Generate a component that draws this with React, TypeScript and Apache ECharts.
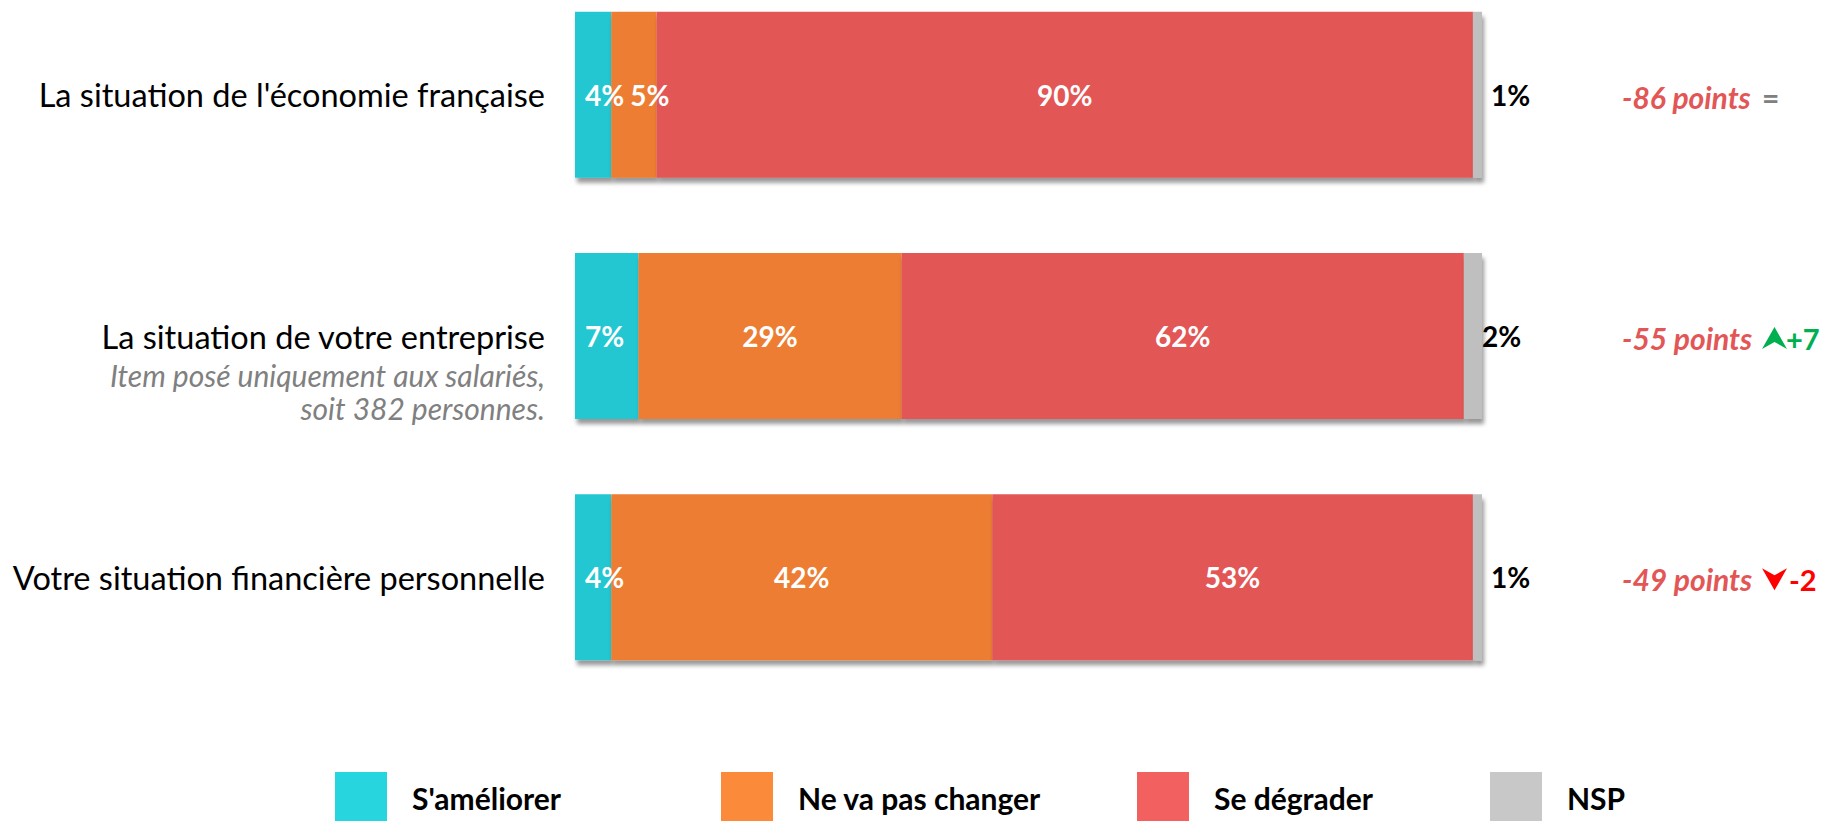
import React, { useEffect, useRef } from "react";
import * as echarts from "echarts";

const categories = [
  "La situation de l'économie française",
  "La situation de votre entreprise",
  "Votre situation financière personnelle",
];
const subtitles = ["", "Item posé uniquement aux salariés,|soit 382 personnes.", ""];
const seriesNames = ["S'améliorer", "Ne va pas changer", "Se dégrader", "NSP"];
const ameliorer = [4, 7, 4];
const neVaPasChanger = [5, 29, 42];
const seDegrader = [90, 62, 53];
const nsp = [1, 2, 1];
const soldes = [-86, -55, -49];
const evolutions = [0, 7, -2];

const FONT = "Lato, 'Open Sans', sans-serif";
const barColors = ["#21c7d1", "#ec7d32", "#e35656", "#bfbfbf"];
const legendColors = ["#27d5de", "#fb8a3b", "#f26060", "#c8c8c8"];
const legendLefts = [335, 721, 1137, 1490];

export default function App() {
  const ref = useRef<HTMLDivElement>(null);
  useEffect(() => {
    const chart = echarts.init(ref.current!, null, { renderer: "svg" });
    const values = [ameliorer, neVaPasChanger, seDegrader, nsp];
    const baseLabel = {
      show: true,
      color: "#fff",
      fontWeight: "bold",
      fontSize: 28,
      fontFamily: FONT,
      formatter: "{c}%",
    };
    const series = values.map((vals, s) => {
      let label: any = { ...baseLabel, position: "inside" };
      if (s === 0) label = { ...baseLabel, position: "insideLeft", distance: 10 };
      if (s === 3) label = { ...baseLabel, position: "right", distance: 9, color: "#000" };
      const data = vals.map((v, i) => {
        const item: any = { value: v };
        if (s === 1 && v < 10) item.label = { offset: [16, 0] };
        if (s === 3 && i === 1) item.label = { distance: 0 };
        return item;
      });
      return {
        type: "bar",
        name: seriesNames[s],
        stack: "total",
        barWidth: 166,
        data,
        label,
        itemStyle: {
          color: barColors[s],
          shadowColor: "rgba(0,0,0,0.4)",
          shadowBlur: 4,
          shadowOffsetX: 2,
          shadowOffsetY: 5,
        },
      };
    });

    const option: any = {
      animation: false,
      backgroundColor: "#fff",
      grid: { left: 575, right: 339, top: -26, height: 724, outerBoundsMode: "none", containLabel: false },
      xAxis: { type: "value", min: 0, max: 100, show: false },
      yAxis: {
        type: "category",
        inverse: true,
        data: categories,
        axisLine: { show: false },
        axisTick: { show: false },
        axisLabel: {
          margin: 30,
          formatter: (value: string, index: number) => {
            const sub = subtitles[index];
            if (!sub) return `{main|${value}}`;
            const lines = sub.split("|").map((l) => `{sub|${l}}`).join("\n");
            return `{sp| }\n{main|${value}}\n${lines}`;
          },
          rich: {
            main: { fontFamily: FONT, fontSize: 32.5, color: "#000", lineHeight: 44 },
            sub: { fontFamily: FONT, fontSize: 30, fontStyle: "italic", color: "#808080", lineHeight: 33 },
            sp: { fontSize: 10, lineHeight: 66 },
          },
        },
      },
      legend: seriesNames.map((name, i) => ({
        data: [{ name, itemStyle: { color: legendColors[i] } }],
        left: legendLefts[i],
        top: 772,
        padding: 0,
        icon: "rect",
        itemWidth: 52,
        itemHeight: 52,
        selectedMode: false,
        textStyle: {
          fontFamily: FONT,
          fontWeight: "bold",
          fontSize: 30,
          color: "#000",
          padding: [0, 0, 0, 20],
        },
      })),
      series,
    };
    chart.setOption(option);

    const graphics: any[] = [];
    categories.forEach((_, i) => {
      const y = chart.convertToPixel({ yAxisIndex: 0 }, i) as number;
      graphics.push({
        type: "text",
        x: 1622,
        y: y + 2,
        style: {
          text: `${soldes[i]} points`,
          fill: "#e35656",
          fontFamily: FONT,
          fontStyle: "italic",
          fontWeight: "bold",
          fontSize: 30,
          verticalAlign: "middle",
        },
      });
      const ev = evolutions[i];
      if (ev === 0) {
        graphics.push({
          type: "text",
          x: 1762,
          y: y + 2,
          style: { text: "=", fill: "#808080", fontFamily: FONT, fontWeight: "bold", fontSize: 30, verticalAlign: "middle" },
        });
      } else {
        const up = ev > 0;
        const col = up ? "#00b050" : "#ff0000";
        const cy = y + 2;
        const cx = 1774.5;
        const pts = up
          ? [[cx, cy - 11], [cx + 12.5, cy + 11], [cx, cy + 4], [cx - 12.5, cy + 11]]
          : [[cx, cy + 11], [cx + 12.5, cy - 11], [cx, cy - 4], [cx - 12.5, cy - 11]];
        graphics.push({ type: "polygon", shape: { points: pts }, style: { fill: col } });
        graphics.push({
          type: "text",
          x: up ? 1786 : 1789,
          y: y + 2,
          style: {
            text: up ? `+${ev}` : `${ev}`,
            fill: col,
            fontFamily: FONT,
            fontWeight: "bold",
            fontSize: 29,
            verticalAlign: "middle",
          },
        });
      }
    });
    chart.setOption({ graphic: graphics });

    return () => chart.dispose();
  }, []);
  return <div ref={ref} style={{ position: "fixed", left: 0, top: 0, width: 1821, height: 821 }} />;
}
